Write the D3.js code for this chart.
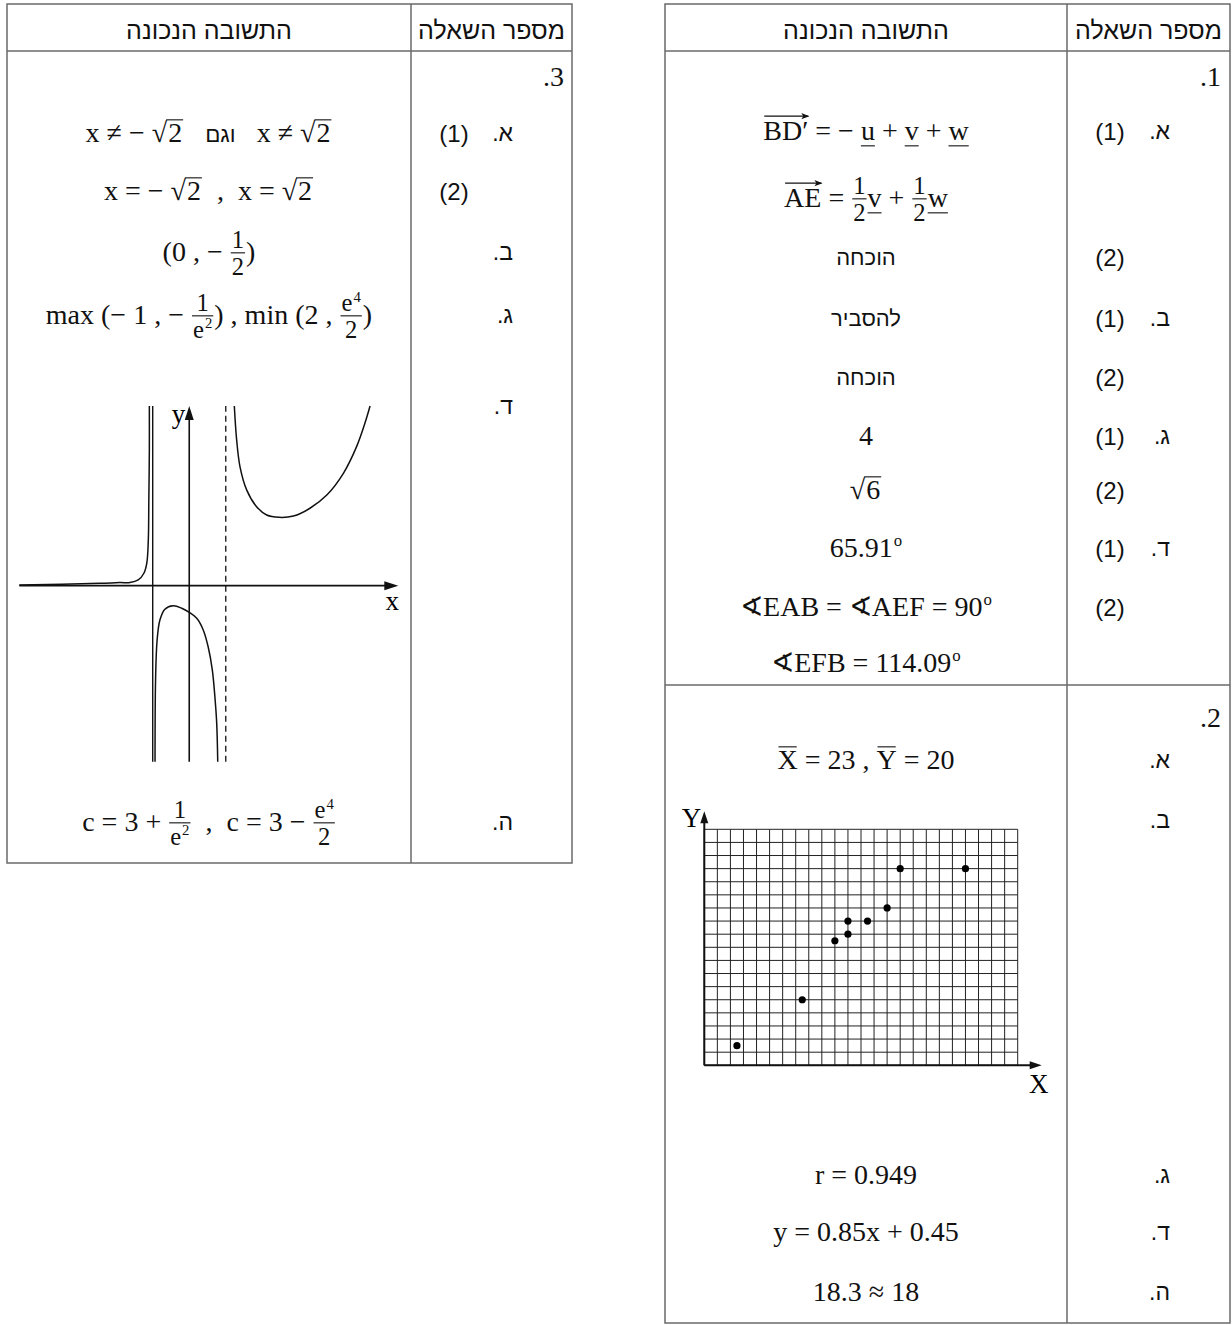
<!DOCTYPE html>
<html>
<head>
<meta charset="utf-8">
<script src="https://cdn.jsdelivr.net/npm/d3@7"></script>
<style>
body{margin:0;background:#fff}
svg{display:block}
text{white-space:pre}
</style>
</head>
<body>
<div id="chart"></div>
<script>

var SERIF = "'Liberation Serif','DejaVu Serif',serif";
var SANS = "'Liberation Sans','DejaVu Sans',sans-serif";

// headers
var header_answer = 'התשובה הנכונה';
var header_question = 'מספר השאלה';

// question 1 (right table, top block)
var q1_number = '.1';
var q1_letters = ['.א', '', '', '.ב', '', '.ג', '', '.ד', '', ''];
var q1_parts = ['(1)', '', '(2)', '(1)', '(2)', '(1)', '(2)', '(1)', '(2)', ''];
var q1_answers = [
	[{vec:'BD′'}, ' = − ', {ul:'u'}, ' + ', {ul:'v'}, ' + ', {ul:'w'}],
	[{vec:'AE'}, ' = ', {frac:['1','2']}, {ul:'v'}, ' + ', {frac:['1','2']}, {ul:'w'}],
	[{heb:'הוכחה'}],
	[{heb:'להסביר'}],
	[{heb:'הוכחה'}],
	['4'],
	[{sqrt:'6'}],
	['65.91', {sup:'o'}],
	['∢EAB = ∢AEF = 90', {sup:'o'}],
	['∢EFB = 114.09', {sup:'o'}]
];

// question 2 (right table, bottom block)
var q2_number = '.2';
var q2_letters = ['.א', '.ב', '.ג', '.ד', '.ה'];
var q2_answers = [
	[{bar:'X'}, ' = 23 , ', {bar:'Y'}, ' = 20'],
	null,
	['r = 0.949'],
	['y = 0.85x + 0.45'],
	['18.3 ≈ 18']
];
var scatter_x = [5, 15, 20, 22, 22, 25, 28, 30, 40];
var scatter_y = [3, 10, 19, 20, 22, 22, 24, 30, 30];
var grid_x = d3.range(0, 49, 2);
var grid_y = d3.range(0, 37, 2);

// question 3 (left table)
var q3_number = '.3';
var q3_letters = ['.א', '', '.ב', '.ג', '.ד', '.ה'];
var q3_parts = ['(1)', '(2)', '', '', '', ''];
var q3_answers = [
	['x ≠ − ', {sqrt:'2'}, '   ', {heb:'וגם'}, '   x ≠ ', {sqrt:'2'}],
	['x = − ', {sqrt:'2'}, '  ,  x = ', {sqrt:'2'}],
	['(0 , − ', {frac:['1','2']}, ')'],
	['max (− 1 , − ', {frac:['1', ['e', {sup:'2'}]]}, ') , min (2 , ', {frac:[['e', {sup:'4'}], '2']}, ')'],
	null,
	['c = 3 + ', {frac:['1', ['e', {sup:'2'}]]}, '  ,  c = 3 − ', {frac:[['e', {sup:'4'}], '2']}]
];
// sketch of the function (graph units)
var branch_left = [[-6.56,0.03],[-3.45,0.09],[-2.68,0.12],[-2.29,0.12],[-1.97,0.22],[-1.75,0.48],[-1.64,0.86],[-1.58,1.76],[-1.56,3.31],[-1.54,5.24],[-1.54,6.94]];
var branch_mid = [[-1.32,-6.8],[-1.3,-3.64],[-1.24,-2.1],[-1.13,-1.32],[-0.94,-0.91],[-0.62,-0.78],[-0.29,-0.87],[0,-1.03],[0.29,-1.26],[0.54,-1.71],[0.73,-2.36],[0.89,-3.25],[0.99,-4.29],[1.06,-5.31],[1.1,-6.8]];
var branch_right = [[1.74,6.94],[1.83,5.63],[1.96,4.59],[2.22,3.69],[2.6,3.05],[2.99,2.73],[3.47,2.64],[4.02,2.69],[4.66,2.99],[5.31,3.5],[5.95,4.34],[6.46,5.37],[6.78,6.27],[6.98,6.94]];
var asym_solid = -1.41, asym_dashed = 1.41;

// layout
var q1_rows_y = [131, 198, 257, 318, 377, 436, 490, 548, 607, 663];
var q2_rows_y = [760, 820, 1175, 1232, 1292];
var q3_rows_y = [133, 191, 252, 315, 406, 822];

var svg = d3.select('#chart').append('svg')
	.attr('width', 1232)
	.attr('height', 1325);

function txt(g, s, x, y, size, font) {
	var t = g.append('text')
		.attr('x', x)
		.attr('y', y)
		.attr('font-family', font || SERIF)
		.attr('font-size', size)
		.attr('fill', '#111')
		.text(s);
	return t.node().getComputedTextLength();
}

function seg(g, x1, y1, x2, y2, w, col) {
	g.append('line')
		.attr('x1', x1).attr('y1', y1)
		.attr('x2', x2).attr('y2', y2)
		.attr('stroke', col || '#111')
		.attr('stroke-width', w || 1.1);
}

// tiny formula layout: strings, underline, bar, vector, sup, sqrt, frac
function run(g, toks, x, y, size) {
	if (!Array.isArray(toks)) toks = [toks];
	var cx = x;
	toks.forEach(function(tk) {
		var w, w2;
		if (typeof tk === 'string') { cx += txt(g, tk, cx, y, size); return; }
		if (tk.heb) {
			cx += txt(g, tk.heb, cx, y, size * 0.8, SANS);
		} else if (tk.ul) {
			w = txt(g, tk.ul, cx, y, size);
			seg(g, cx, y + size * 0.2, cx + w, y + size * 0.2);
			cx += w;
		} else if (tk.bar) {
			w = txt(g, tk.bar, cx, y, size);
			seg(g, cx + 1, y - size * 0.8, cx + w - 1, y - size * 0.8);
			cx += w;
		} else if (tk.vec) {
			w = txt(g, tk.vec, cx, y, size);
			var ay = y - size * 0.86;
			seg(g, cx + 1, ay, cx + w, ay);
			g.append('path')
				.attr('d', 'M' + (cx + w + 1) + ',' + ay + 'l-8,-3.2l2,3.2l-2,3.2z')
				.attr('fill', '#111');
			cx += w;
		} else if (tk.sup) {
			cx += txt(g, tk.sup, cx + 1, y - size * 0.4, size * 0.6) + 1;
		} else if (tk.sqrt) {
			w = txt(g, '√', cx, y, size);
			w2 = txt(g, tk.sqrt, cx + w + 1, y, size);
			seg(g, cx + w - 1, y - size * 0.8, cx + w + w2 + 2, y - size * 0.8);
			cx += w + w2 + 3;
		} else if (tk.frac) {
			var fs = size * 0.88;
			var ng = g.append('g'), dg = g.append('g');
			var nw = run(ng, tk.frac[0], 0, 0, fs);
			var dw = run(dg, tk.frac[1], 0, 0, fs);
			w = Math.max(nw, dw) + 4;
			var axis = y - size * 0.3;
			ng.attr('transform', 'translate(' + (cx + (w - nw) / 2) + ',' + (axis - size * 0.16) + ')');
			dg.attr('transform', 'translate(' + (cx + (w - dw) / 2) + ',' + (axis + size * 0.78) + ')');
			seg(g, cx + 1, axis, cx + w - 1, axis);
			cx += w;
		}
	});
	return cx - x;
}

function formula(g, toks, cx, cy, size) {
	var fg = g.append('g');
	var w = run(fg, toks, 0, 0, size);
	fg.attr('transform', 'translate(' + (cx - w / 2) + ',' + (cy + size * 0.33) + ')');
}

function heb(g, s, x, y, size, anchor) {
	g.append('text')
		.attr('x', x)
		.attr('y', y + size * 0.36)
		.attr('font-family', SANS)
		.attr('font-size', size)
		.attr('text-anchor', anchor || 'middle')
		.attr('fill', '#111')
		.text(s);
}

function serifLabel(g, s, x, y, size, anchor) {
	g.append('text')
		.attr('x', x)
		.attr('y', y + size * 0.33)
		.attr('font-family', SERIF)
		.attr('font-size', size)
		.attr('text-anchor', anchor || 'end')
		.attr('fill', '#111')
		.text(s);
}

function tableFrame(g, x0, x1, xd, y0, y1, hLines) {
	var c = '#6a6a6a';
	g.append('rect')
		.attr('x', x0).attr('y', y0)
		.attr('width', x1 - x0).attr('height', y1 - y0)
		.attr('fill', 'none').attr('stroke', c).attr('stroke-width', 1.5);
	seg(g, xd, y0, xd, y1, 1.5, c);
	hLines.forEach(function(h) { seg(g, x0, h, x1, h, 1.5, c); });
}

var ANS = 28, HEAD = 25, HEB = 22, LET = 23, PART = 24;

// ---------- right table ----------
var R = {x0: 665, x1: 1230, xd: 1067, y0: 4, y1: 1323};
var rt = svg.append('g');
tableFrame(rt, R.x0, R.x1, R.xd, R.y0, R.y1, [51, 685]);
var rMid = (R.x0 + R.xd) / 2;
heb(rt, header_answer, rMid, 30, HEAD);
heb(rt, header_question, (R.xd + R.x1) / 2, 30, HEAD);
serifLabel(rt, q1_number, 1221, 77, ANS);
q1_answers.forEach(function(a, i) {
	var y = q1_rows_y[i];
	if (a.length === 1 && a[0].heb) heb(rt, a[0].heb, rMid, y, HEB);
	else formula(rt, a, rMid, y, ANS);
	if (q1_letters[i]) heb(rt, q1_letters[i], 1170, y, LET, 'end');
	if (q1_parts[i]) heb(rt, q1_parts[i], 1110, y, PART);
});
serifLabel(rt, q2_number, 1221, 718, ANS);
q2_answers.forEach(function(a, i) {
	var y = q2_rows_y[i];
	if (a) formula(rt, a, rMid, y, ANS);
	heb(rt, q2_letters[i], 1170, y, LET, 'end');
});

// scatter grid for 2.b
var xs = d3.scaleLinear().domain([0, 48]).range([704.3, 1017.7]);
var ys = d3.scaleLinear().domain([0, 36]).range([1065.3, 829.3]);
var sg = rt.append('g');
sg.selectAll('line.gx').data(grid_x).enter().append('line')
	.attr('class', 'gx')
	.attr('x1', function(d) { return xs(d); }).attr('x2', function(d) { return xs(d); })
	.attr('y1', ys(0)).attr('y2', ys(36))
	.attr('stroke', '#222').attr('stroke-width', 1);
sg.selectAll('line.gy').data(grid_y).enter().append('line')
	.attr('class', 'gy')
	.attr('y1', function(d) { return ys(d); }).attr('y2', function(d) { return ys(d); })
	.attr('x1', xs(0)).attr('x2', xs(48))
	.attr('stroke', '#222').attr('stroke-width', 1);
seg(sg, xs(0), ys(0), xs(48) + 16, ys(0), 2);
seg(sg, xs(0), ys(0), xs(0), ys(36) - 12, 2);
sg.append('path')
	.attr('d', 'M' + (xs(48) + 24) + ',' + ys(0) + 'l-12,-4l0,8z').attr('fill', '#111');
sg.append('path')
	.attr('d', 'M' + xs(0) + ',' + (ys(36) - 18) + 'l-4,12l8,0z').attr('fill', '#111');
sg.append('text').attr('x', xs(0) - 3).attr('y', ys(36) - 2)
	.attr('text-anchor', 'end').attr('font-family', SERIF).attr('font-size', 27).text('Y');
sg.append('text').attr('x', xs(48) + 21).attr('y', ys(0) + 28)
	.attr('text-anchor', 'middle').attr('font-family', SERIF).attr('font-size', 27).text('X');
sg.selectAll('circle').data(scatter_x).enter().append('circle')
	.attr('cx', function(d) { return xs(d); })
	.attr('cy', function(d, i) { return ys(scatter_y[i]); })
	.attr('r', 3.6)
	.attr('fill', '#000');

// ---------- left table ----------
var L = {x0: 7, x1: 572, xd: 411, y0: 4, y1: 863};
var lt = svg.append('g');
tableFrame(lt, L.x0, L.x1, L.xd, L.y0, L.y1, [51]);
var lMid = (L.x0 + L.xd) / 2;
heb(lt, header_answer, lMid, 30, HEAD);
heb(lt, header_question, (L.xd + L.x1) / 2, 30, HEAD);
serifLabel(lt, q3_number, 564, 77, ANS);
q3_answers.forEach(function(a, i) {
	var y = q3_rows_y[i];
	if (a) formula(lt, a, lMid, y, ANS);
	if (q3_letters[i]) heb(lt, q3_letters[i], 513, y, LET, 'end');
	if (q3_parts[i]) heb(lt, q3_parts[i], 454, y, PART);
});

// function sketch for 3.d
var gx = d3.scaleLinear().domain([-6.56, 8.07]).range([19.3, 398.3]);
var gy = d3.scaleLinear().domain([-6.8, 6.94]).range([761.7, 406]);
var fg = lt.append('g');
seg(fg, gx(-6.56), gy(0), gx(8.07) - 12, gy(0), 1.6);
fg.append('path').attr('d', 'M' + gx(8.07) + ',' + gy(0) + 'l-14,-4.5l0,9z').attr('fill', '#111');
seg(fg, gx(0), gy(-6.8), gx(0), gy(6.94) + 12, 1.6);
fg.append('path').attr('d', 'M' + gx(0) + ',' + gy(6.94) + 'l-4.5,14l9,0z').attr('fill', '#111');
seg(fg, gx(asym_solid), gy(-6.8), gx(asym_solid), gy(6.94), 1.4);
fg.append('line')
	.attr('x1', gx(asym_dashed)).attr('x2', gx(asym_dashed))
	.attr('y1', gy(-6.8)).attr('y2', gy(6.94))
	.attr('stroke', '#111').attr('stroke-width', 1.3)
	.attr('stroke-dasharray', '6,4');
fg.append('text').attr('x', gx(0) - 4).attr('y', gy(6.94) + 17)
	.attr('text-anchor', 'end').attr('font-family', SERIF).attr('font-size', 27).text('y');
fg.append('text').attr('x', gx(8.07) - 6).attr('y', gy(0) + 24)
	.attr('text-anchor', 'middle').attr('font-family', SERIF).attr('font-size', 27).text('x');
var curve = d3.line()
	.x(function(d) { return gx(d[0]); })
	.y(function(d) { return gy(d[1]); })
	.curve(d3.curveCatmullRom.alpha(0.5));
[branch_left, branch_mid, branch_right].forEach(function(b) {
	fg.append('path').attr('d', curve(b))
		.attr('fill', 'none').attr('stroke', '#111').attr('stroke-width', 1.5);
});

</script>
</body>
</html>
